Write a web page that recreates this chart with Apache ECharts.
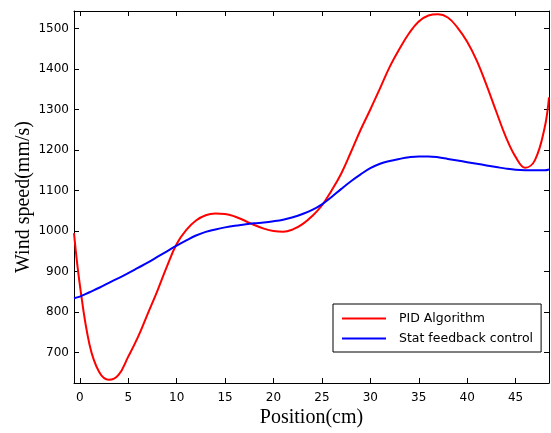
<!DOCTYPE html>
<html>
<head>
<meta charset="utf-8">
<script src="https://cdn.jsdelivr.net/npm/echarts@6/dist/echarts.min.js"></script>
<style>
html,body{margin:0;padding:0;background:#fff;}
#chart{width:551px;height:433px;}
</style>
</head>
<body>
<div id="chart"></div>
<script>
// Position (cm)
const positions = [-0.6, 0, 1, 2, 3, 4, 5, 6, 7, 8, 9, 10, 11, 12, 13, 14, 15, 16, 17, 18, 19, 20, 21, 22, 23, 24, 25, 26, 27, 28, 29, 30, 31, 32, 33, 34, 35, 36, 37, 38, 39, 40, 41, 42, 43, 44, 45, 46, 47, 48, 48.45];
// PID Algorithm wind speed (mm/s)
const pidValues = [995, 868, 720, 652, 633, 645, 690, 738, 795, 852, 913, 968, 1003, 1026, 1039, 1043, 1042, 1036, 1026, 1015, 1006, 1000, 998, 1004, 1017, 1037, 1063, 1100, 1142, 1195, 1250, 1300, 1352, 1405, 1449, 1488, 1517, 1532, 1535, 1527, 1502, 1467, 1420, 1360, 1295, 1232, 1183, 1156, 1175, 1255, 1330];
// Stat feedback control wind speed (mm/s)
const statValues = [834, 838, 849, 860, 872, 884, 896, 909, 922, 936, 950, 964, 977, 989, 998, 1004, 1009, 1013, 1016, 1019, 1021, 1024, 1028, 1034, 1042, 1052, 1066, 1084, 1104, 1123, 1140, 1155, 1166, 1173, 1178, 1182, 1184, 1184, 1182, 1178, 1174, 1170, 1166, 1162, 1158, 1154, 1151, 1150, 1150, 1150, 1152];
// Tick labels
const xTicks = [0, 5, 10, 15, 20, 25, 30, 35, 40, 45];
const yTicks = [700, 800, 900, 1000, 1100, 1200, 1300, 1400, 1500];
const seriesNames = ['PID Algorithm', 'Stat feedback control'];

const pidData = positions.map((x, i) => [x, pidValues[i]]);
const statData = positions.map((x, i) => [x, statValues[i]]);

const axisLine = {show: true, onZero: false, lineStyle: {color: '#000', width: 1}};
const tickFont = {color: '#000', fontFamily: 'DejaVu Sans', fontSize: 12};
const plain = v => String(v);

const chart = echarts.init(document.getElementById('chart'), null, {renderer: 'canvas'});
chart.setOption({
  animation: false,
  backgroundColor: '#fff',
  grid: {left: 74, top: 11, right: 2, bottom: 50, containLabel: false, outerBoundsMode: 'none'},
  legend: {
    orient: 'vertical',
    left: 333, top: 304,
    data: seriesNames,
    icon: 'rect',
    itemWidth: 44, itemHeight: 2,
    itemGap: 7,
    padding: [8, 8, 7, 9],
    borderColor: '#000', borderWidth: 1,
    backgroundColor: '#fff',
    textStyle: {color: '#000', fontFamily: 'DejaVu Sans', fontSize: 12.5, padding: [0, 0, 0, 8]}
  },
  xAxis: [
    {
      type: 'value', position: 'bottom', min: -0.6, max: 48.45,
      axisLine: axisLine,
      axisTick: {show: true, inside: true, length: 5, customValues: xTicks, lineStyle: {color: '#000'}},
      axisLabel: {show: true, customValues: xTicks, margin: 9, formatter: plain, ...tickFont},
      splitLine: {show: false},
      name: 'Position(cm)', nameLocation: 'middle', nameGap: 25, nameMoveOverlap: false,
      nameTextStyle: {fontFamily: 'Liberation Serif', fontSize: 20, color: '#000'}
    },
    {
      type: 'value', position: 'top', min: -0.6, max: 48.45,
      axisLine: axisLine,
      axisTick: {show: true, inside: true, length: 5, customValues: xTicks, lineStyle: {color: '#000'}},
      axisLabel: {show: false},
      splitLine: {show: false}
    }
  ],
  yAxis: [
    {
      type: 'value', position: 'left', min: 625, max: 1543,
      axisLine: axisLine,
      axisTick: {show: true, inside: true, length: 5, customValues: yTicks, lineStyle: {color: '#000'}},
      axisLabel: {show: true, customValues: yTicks, margin: 5, formatter: plain, ...tickFont},
      splitLine: {show: false},
      name: 'Wind speed(mm/s)', nameLocation: 'middle', nameGap: 40, nameMoveOverlap: false,
      nameTextStyle: {fontFamily: 'Liberation Serif', fontSize: 20, color: '#000'}
    },
    {
      type: 'value', position: 'right', min: 625, max: 1543,
      axisLine: axisLine,
      axisTick: {show: true, inside: true, length: 5, customValues: yTicks, lineStyle: {color: '#000'}},
      axisLabel: {show: false},
      splitLine: {show: false}
    }
  ],
  series: [
    {
      name: seriesNames[0], type: 'line', data: pidData,
      xAxisIndex: 0, yAxisIndex: 0,
      showSymbol: false, symbol: 'none', smooth: 0.4,
      lineStyle: {color: '#ff0000', width: 2},
      itemStyle: {color: '#ff0000'}
    },
    {
      name: seriesNames[1], type: 'line', data: statData,
      xAxisIndex: 0, yAxisIndex: 0,
      showSymbol: false, symbol: 'none', smooth: 0.4,
      lineStyle: {color: '#0000ff', width: 2},
      itemStyle: {color: '#0000ff'}
    }
  ]
});
</script>
</body>
</html>
